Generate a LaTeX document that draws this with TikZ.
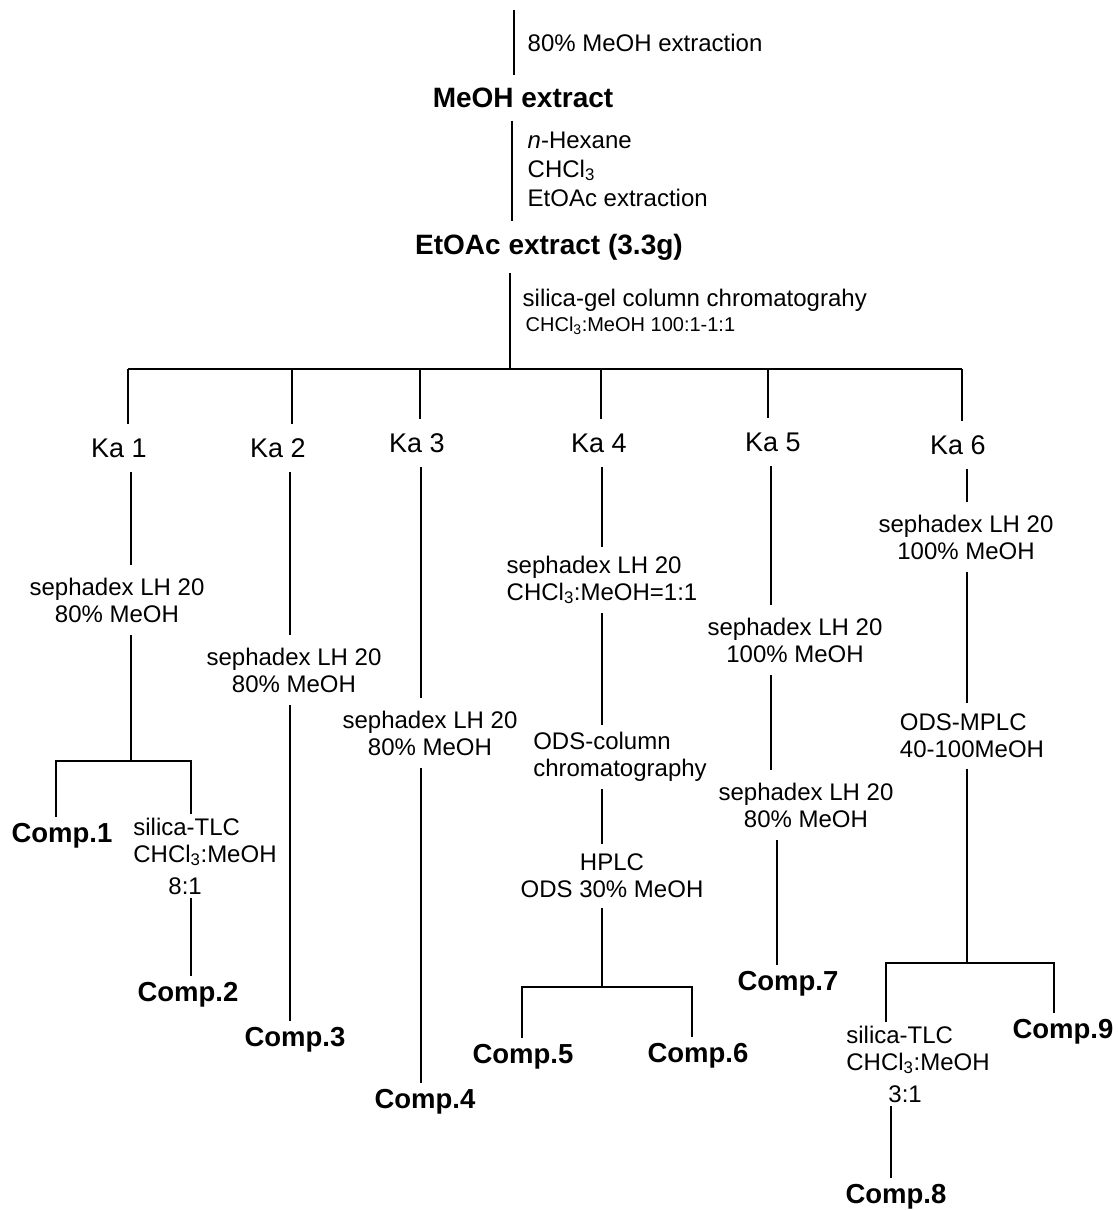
\documentclass[tikz,border=0pt]{standalone}
\usepackage{fontspec}
\setmainfont{Liberation Sans}
\tikzset{
  proc/.style={font=\fontsize{24}{27}\selectfont, align=center, inner sep=12pt},
  tlc/.style={font=\fontsize{24}{27}\selectfont, align=left, inner sep=3pt},
  frac/.style={font=\fontsize{27}{30}\selectfont, inner sep=14pt},
  extr/.style={font=\fontsize{28}{32}\selectfont\bfseries, inner sep=12pt},
  comp/.style={font=\fontsize{27.5}{30}\selectfont\bfseries, inner sep=6pt},
  note/.style={font=\fontsize{24}{29}\selectfont, align=left, anchor=west, inner sep=0pt},
}
\begin{document}
\begin{tikzpicture}[x=1pt, y=-1pt, line width=1.4pt]
  \useasboundingbox (0,0) rectangle (1117,1210);
  % extraction steps
  \coordinate (top) at (514,10);
  \node[note] (s0) at (527,43) {80\% MeOH extraction};
  \node[extr] (meoh) at (523,98) {MeOH extract};
  \node[note] (s1) at (527,169) {\textit{n}-Hexane\\CHCl\textsubscript{3}\\EtOAc extraction};
  \node[extr] (etoac) at (549,247) {EtOAc extract (3.3g)};
  \node[note] (s2) at (522,300) {silica-gel column chromatograhy};
  \node[note, font=\fontsize{20}{24}\selectfont] (s3) at (525,326) {CHCl\textsubscript{3}:MeOH 100:1-1:1};
  % fractions
  \node[frac] (ka1) at (119,448) {Ka 1};
  \node[frac] (ka2) at (278,448) {Ka 2};
  \node[frac] (ka3) at (417,443) {Ka 3};
  \node[frac] (ka4) at (599,443) {Ka 4};
  \node[frac] (ka5) at (773,442) {Ka 5};
  \node[frac] (ka6) at (958,445) {Ka 6};
  % separation steps
  \node[proc] (sp1) at (117,600) {sephadex LH 20\\80\% MeOH};
  \node[proc] (sp2) at (294,670) {sephadex LH 20\\80\% MeOH};
  \node[proc] (sp3) at (430,733) {sephadex LH 20\\80\% MeOH};
  \node[proc, align=left, inner sep=8pt] (sp4) at (602,580) {sephadex LH 20\\CHCl\textsubscript{3}:MeOH=1:1};
  \node[proc, align=left, inner sep=7pt] (ods) at (620,757) {ODS-column\\chromatography};
  \node[proc, inner sep=9pt] (hplc) at (612,876) {HPLC\\ODS 30\% MeOH};
  \node[proc] (sp5a) at (795,640) {sephadex LH 20\\100\% MeOH};
  \node[proc] (sp5b) at (806,805) {sephadex LH 20\\80\% MeOH};
  \node[proc] (sp6) at (966,537) {sephadex LH 20\\100\% MeOH};
  \node[proc, align=left, inner sep=10pt] (mplc) at (972,736) {ODS-MPLC\\40-100MeOH};
  \node[tlc] (tlc1) at (205,856) {silica-TLC\\CHCl\textsubscript{3}:MeOH\\[5pt]\hspace*{35pt}8:1};
  \node[tlc] (tlc2) at (918,1064) {silica-TLC\\CHCl\textsubscript{3}:MeOH\\[5pt]\hspace*{42pt}3:1};
  % compounds
  \node[comp] (c1) at (62,836) {Comp.1};
  \node[comp] (c2) at (188,995) {Comp.2};
  \node[comp] (c3) at (295,1040) {Comp.3};
  \node[comp] (c4) at (425,1102) {Comp.4};
  \node[comp] (c5) at (523,1057) {Comp.5};
  \node[comp] (c6) at (698,1056) {Comp.6};
  \node[comp] (c7) at (788,984) {Comp.7};
  \node[comp] (c8) at (896,1197) {Comp.8};
  \node[comp] (c9) at (1063,1032) {Comp.9};
  % column lines
  \coordinate (k0) at (512,0);
  \coordinate (root) at (510,369);
  \coordinate (k1) at (131,0);
  \coordinate (k2) at (290,0);
  \coordinate (k3) at (421,0);
  \coordinate (k4) at (602,0);
  \coordinate (k5a) at (771,0);
  \coordinate (k5b) at (777,0);
  \coordinate (k6) at (967,0);
  \coordinate (k8) at (891,0);
  \coordinate (d1) at (128,369);
  \coordinate (d2) at (292,369);
  \coordinate (d3) at (420,369);
  \coordinate (d4) at (601,369);
  \coordinate (d5) at (768,369);
  \coordinate (d6) at (962,369);
  \coordinate (b1l) at (56,761);
  \coordinate (b1r) at (191,761);
  \coordinate (b4l) at (522,987);
  \coordinate (b4r) at (692,987);
  \coordinate (b6l) at (886,963);
  \coordinate (b6r) at (1054,963);
  \begin{scope}[-]
    \draw (top) -- (top |- meoh.north);
    \draw (k0 |- meoh.south) -- (k0 |- etoac.north);
    \draw (root |- etoac.south) -- (root);
    \draw (d1) -- (d6);
    \foreach \i in {1,...,6}
      \draw (d\i) -- (d\i |- ka\i.north);
    \draw (k1 |- ka1.south) -- (k1 |- sp1.north);
    \draw (k1 |- sp1.south) -- (k1 |- b1l);
    \draw (b1l |- c1.north) -- (b1l) -- (b1r) -- (b1r |- tlc1.north);
    \draw (b1r |- tlc1.south) -- (b1r |- c2.north);
    \draw (k2 |- ka2.south) -- (k2 |- sp2.north);
    \draw (k2 |- sp2.south) -- (k2 |- c3.north);
    \draw (k3 |- ka3.south) -- (k3 |- sp3.north);
    \draw (k3 |- sp3.south) -- (k3 |- c4.north);
    \draw (k4 |- ka4.south) -- (k4 |- sp4.north);
    \draw (k4 |- sp4.south) -- (k4 |- ods.north);
    \draw (k4 |- ods.south) -- (k4 |- hplc.north);
    \draw (k4 |- hplc.south) -- (k4 |- b4l);
    \draw (b4l |- c5.north) -- (b4l) -- (b4r) -- (b4r |- c6.north);
    \draw (k5a |- ka5.south) -- (k5a |- sp5a.north);
    \draw (k5a |- sp5a.south) -- (k5a |- sp5b.north);
    \draw (k5b |- sp5b.south) -- (k5b |- c7.north);
    \draw (k6 |- ka6.south) -- (k6 |- sp6.north);
    \draw (k6 |- sp6.south) -- (k6 |- mplc.north);
    \draw (k6 |- mplc.south) -- (k6 |- b6l);
    \draw (b6l |- tlc2.north) -- (b6l) -- (b6r) -- (b6r |- c9.north);
    \draw (k8 |- tlc2.south) -- (k8 |- c8.north);
  \end{scope}
\end{tikzpicture}
\end{document}
